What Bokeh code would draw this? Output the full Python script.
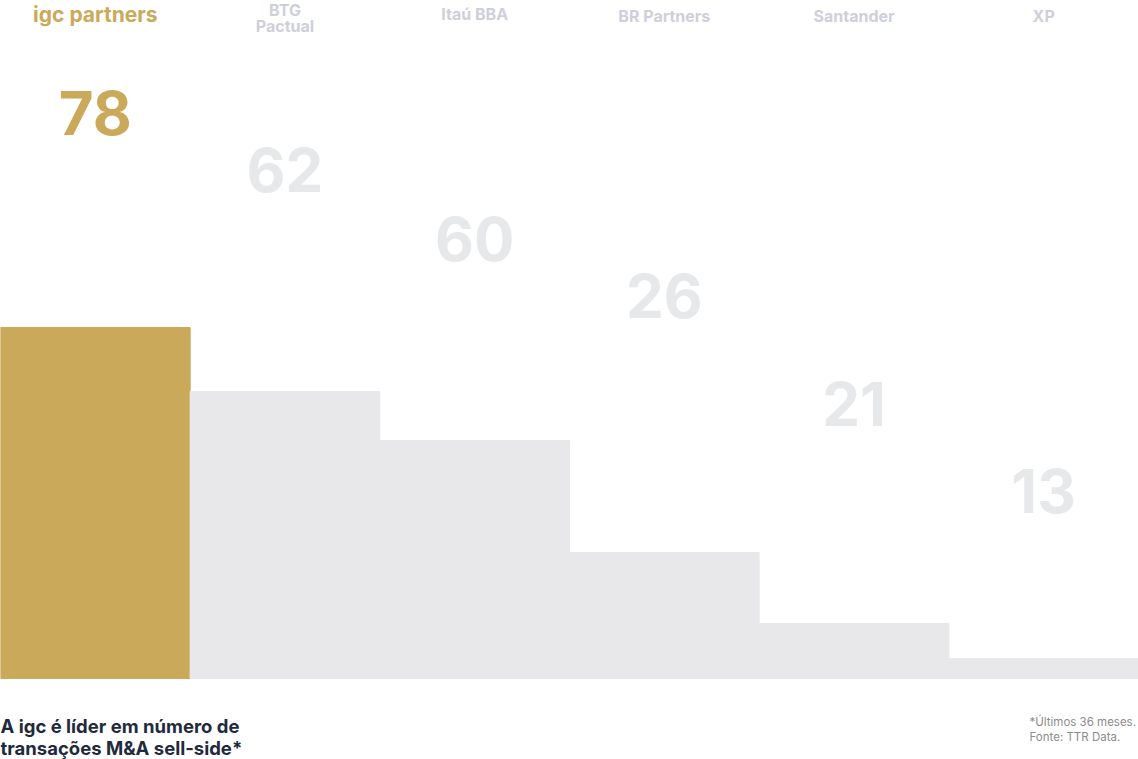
from bokeh.plotting import figure
from bokeh.models import Range1d, ColumnDataSource
from bokeh.core.properties import value
from bokeh.embed import file_html
from bokeh.resources import INLINE

# ---- data ----
banks = ["igc partners", "BTG\nPactual", "Itaú BBA", "BR Partners", "Santander", "XP"]
deals = [78, 62, 60, 26, 21, 13]
# bar heights as drawn in the picture (relative scale, bottom = 0)
bar_heights = [351, 287, 238, 126, 55, 20]
title_lines = ["A igc é líder em número de", "transações M&A sell-side*"]
note_lines = ["*Últimos 36 meses.", "Fonte: TTR Data."]

# ---- layout / style ----
W, H = 1138, 759
GOLD = "#caa95a"
BAR_GRAY = "#e8e8ea"
NUM_GRAY = "#e6e8ea"
NAME_GRAY = "#cfcfdb"
NAVY = "#1f2a3d"
FONT = "Inter"

label_y = [566, 509, 440, 383, 275, 188]   # vertical placement of big numbers
name_y = [664, 661, 665, 663, 663, 663]

n = len(banks)
xs = [i + 0.5 for i in range(n)]
bar_colors = [GOLD] + [BAR_GRAY] * (n - 1)
num_colors = [GOLD] + [NUM_GRAY] * (n - 1)
name_colors = [GOLD] + [NAME_GRAY] * (n - 1)
name_sizes = ["21px"] + ["16px"] * (n - 1)

p = figure(width=W, height=H, output_backend="svg", toolbar_location=None,
           x_range=Range1d(0, n), y_range=Range1d(-81, 678),
           min_border=0, min_border_left=0, min_border_right=0,
           min_border_top=0, min_border_bottom=0)
p.axis.visible = False
p.grid.visible = False
p.outline_line_color = None
p.background_fill_color = "white"
p.border_fill_color = "white"

src = ColumnDataSource(dict(x=xs, top=bar_heights, color=bar_colors,
                            num=[str(d) for d in deals], ly=label_y, ncolor=num_colors,
                            name=banks, ny=name_y, namecolor=name_colors, nsize=name_sizes))

p.vbar(x="x", top="top", bottom=0, width=1.0, fill_color="color", line_color="color",
       line_width=1, source=src)

p.text(x="x", y="ly", text="num", text_color="ncolor", text_font=value(FONT),
       text_font_style="bold", text_font_size="60px", text_align="center",
       text_baseline="middle", source=src)

p.text(x="x", y="ny", text="name", text_color="namecolor", text_font=value(FONT),
       text_font_style="bold", text_font_size="nsize", text_align="center",
       text_baseline="middle", text_line_height=0.8, source=src)

# bottom-left caption
p.text(x=[0.0, 0.0], y=[-47, -69], text=title_lines, text_color=NAVY,
       text_font=value(FONT), text_font_style="bold", text_font_size="18.5px",
       text_align="left", text_baseline="middle")

# bottom-right note
x_note = 1029 / W * n
p.text(x=[x_note, x_note], y=[-43, -58], text=note_lines, text_color="#8c8c8c",
       text_font=value(FONT), text_font_size="11.5px",
       text_align="left", text_baseline="middle")

open("out.html", "w").write(file_html(p, INLINE))
